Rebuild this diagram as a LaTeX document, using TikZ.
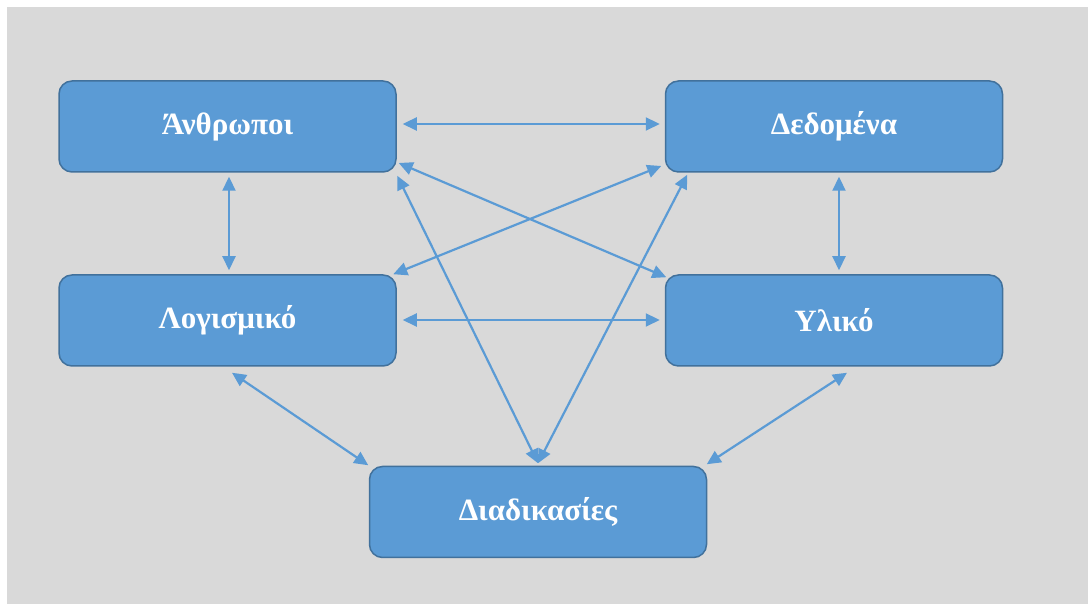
\documentclass[tikz,border=0pt]{standalone}
\usepackage{fontspec}
\setmainfont{Liberation Serif}
\usepackage{xcolor}
\usetikzlibrary{arrows.meta}
\definecolor{boxblue}{HTML}{5B9BD5}
\definecolor{boxline}{HTML}{41719C}
\definecolor{bggray}{HTML}{D9D9D9}

\begin{document}
\begin{tikzpicture}[x=1pt, y=1pt,
  part/.style={draw=boxline, line width=1.5pt, fill=boxblue, rounded corners=13pt,
    minimum width=337pt, minimum height=91pt, text=white,
    font=\fontsize{31}{35}\selectfont\bfseries},
  link/.style={draw=boxblue, line width=2.2pt,
    {Triangle[length=14pt, width=13pt]}-{Triangle[length=14pt, width=13pt]}}]
\useasboundingbox (0,0) rectangle (1088,604);
\fill[white] (0,0) rectangle (1088,604);
\fill[bggray] (7,0) rectangle (1088,597);

\node[part] (anthropoi) at (227.5,477.5) {Άνθρωποι};
\node[part] (dedomena) at (834,477.5) {Δεδομένα};
\node[part] (logismiko) at (227.5,283.5) {Λογισμικό};
\node[part] (yliko) at (834,283.5) {Υλικό};
\node[part] (diadikasies) at (538,92) {Διαδικασίες};

\draw[link] ([shift={(6,2.5)}]anthropoi.east) -- ([shift={(-5,2.5)}]dedomena.west);
\draw[link] ([shift={(6,0.5)}]logismiko.east) -- ([shift={(-5,0.5)}]yliko.west);
\draw[link] ([shift={(1.5,-4)}]anthropoi.south) -- ([shift={(1.5,4)}]logismiko.north);
\draw[link] ([shift={(5,-4)}]dedomena.south) -- ([shift={(5,4)}]yliko.north);
\draw[link] ([shift={(2,-36.5)}]anthropoi.east) -- ([shift={(1.5,-3)}]yliko.north west);
\draw[link] ([shift={(-3.5,-39.5)}]dedomena.west) -- ([shift={(-3.5,0)}]logismiko.north east);
\draw[link] ([shift={(0.5,-3)}]anthropoi.south east) -- ([shift={(0,2.5)}]diadikasies.north);
\draw[link] ([shift={(22.5,-2)}]dedomena.south west) -- ([shift={(0,2.5)}]diadikasies.north);
\draw[link] ([shift={(4.5,-6)}]logismiko.south) -- ([shift={(-0.5,0.5)}]diadikasies.north west);
\draw[link] ([shift={(13,-6)}]yliko.south) -- ([shift={(-0.5,1.5)}]diadikasies.north east);
\end{tikzpicture}
\end{document}
